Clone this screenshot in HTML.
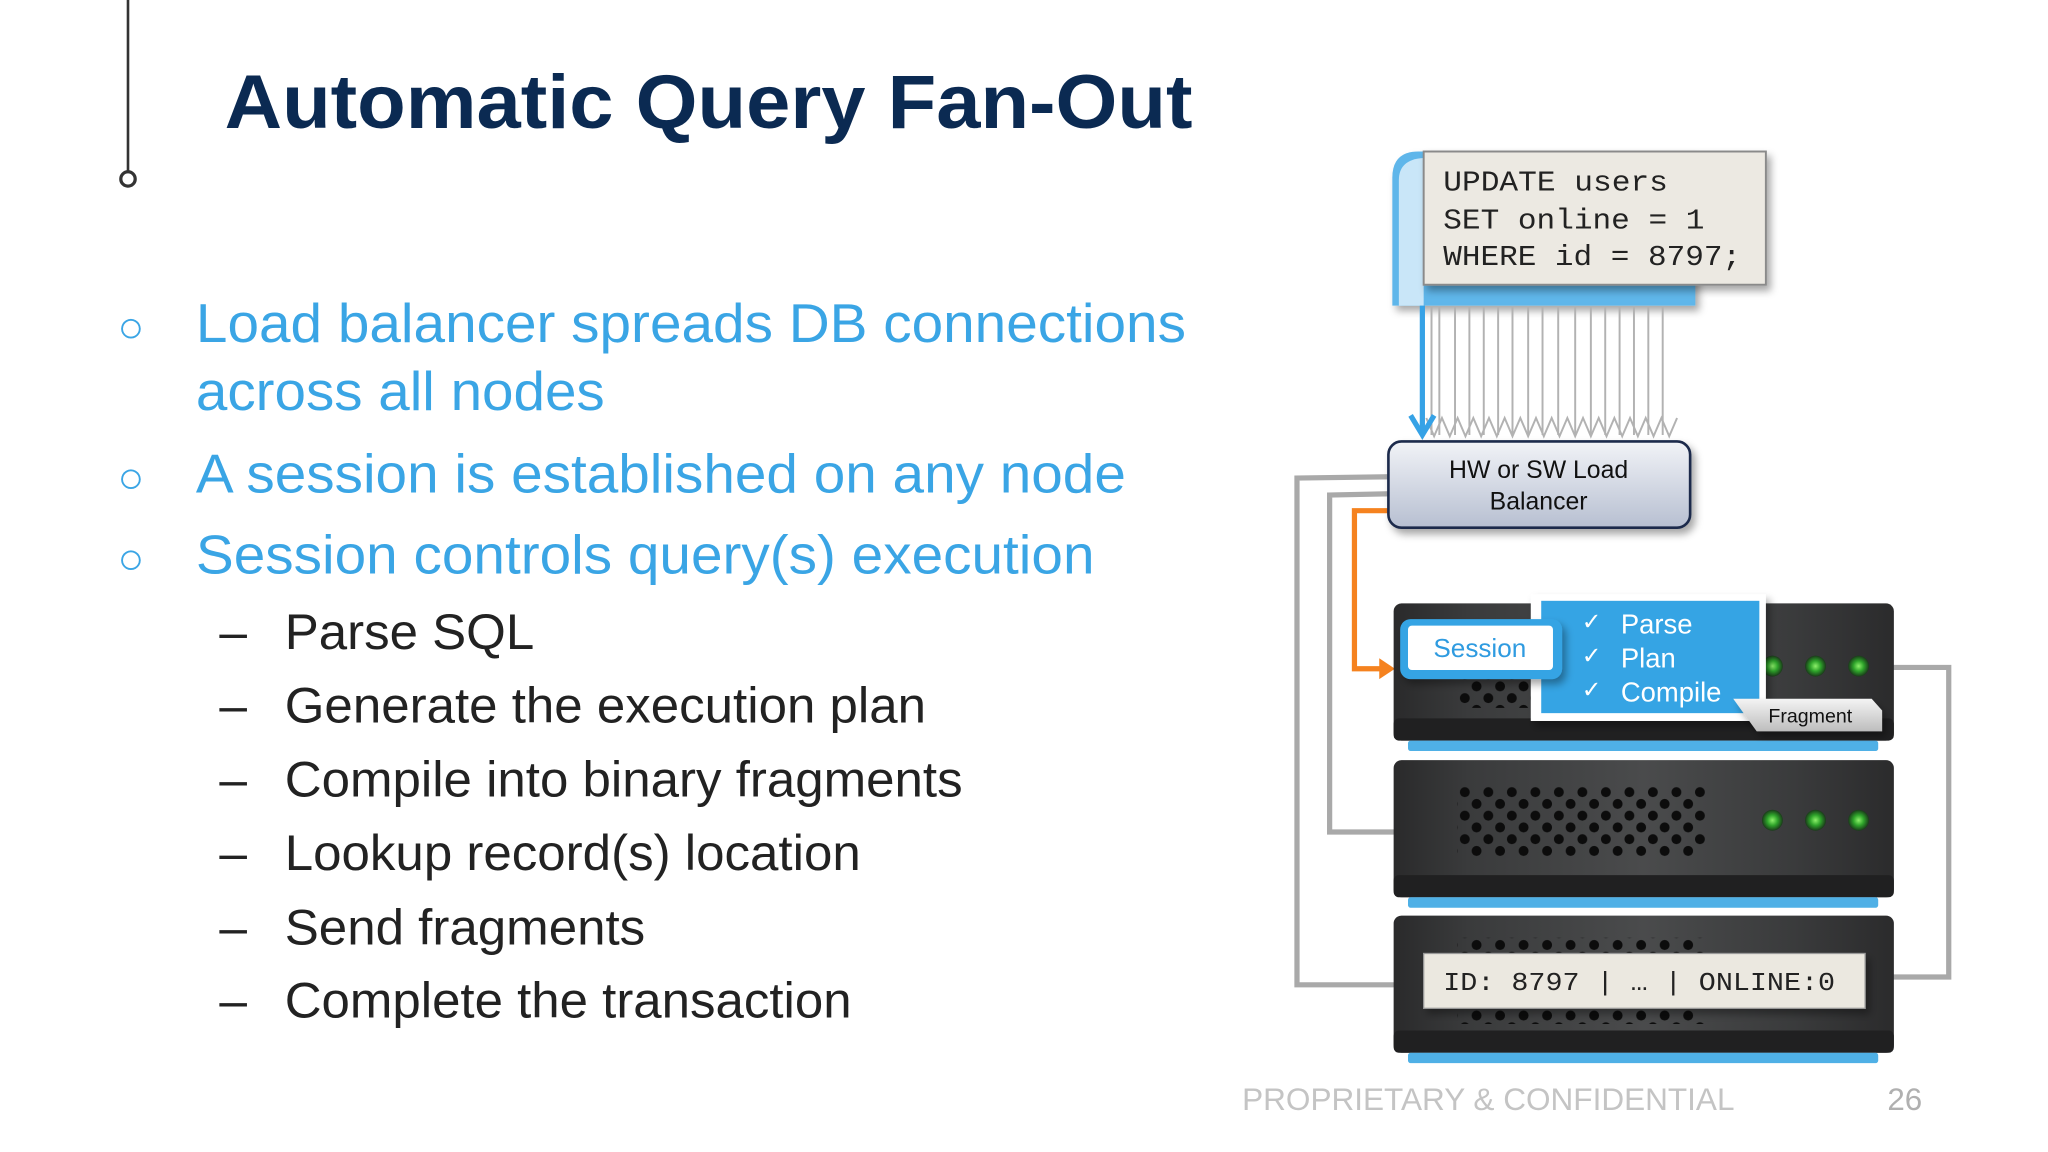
<!DOCTYPE html>
<html><head><meta charset="utf-8"><style>
html,body{margin:0;padding:0;background:#fff;width:2048px;height:1152px;overflow:hidden}
svg{display:block}
text{font-family:"Liberation Sans",Arial,sans-serif}
.mono{font-family:"Liberation Mono","Courier New",monospace}
</style></head><body>
<svg width="2048" height="1152" viewBox="0 0 1568 882" xmlns="http://www.w3.org/2000/svg">
<defs>
<linearGradient id="lb" x1="0" y1="0" x2="0" y2="1"><stop offset="0" stop-color="#f1f3f7"/><stop offset="1" stop-color="#b7bfd1"/></linearGradient>
<linearGradient id="srv" x1="0" y1="0" x2="1" y2="0"><stop offset="0" stop-color="#2a2a2b"/><stop offset="0.15" stop-color="#3a3b3c"/><stop offset="0.5" stop-color="#4a4b4c"/><stop offset="0.8" stop-color="#3a3b3c"/><stop offset="1" stop-color="#2b2b2c"/></linearGradient>
<linearGradient id="frag" x1="0" y1="0" x2="0" y2="1"><stop offset="0" stop-color="#f4f4f4"/><stop offset="1" stop-color="#bdbdbd"/></linearGradient>
<pattern id="vent" x="1117" y="602" width="18" height="18" patternUnits="userSpaceOnUse"><circle cx="4.5" cy="4.5" r="3.8" fill="#0c0c0c"/><circle cx="13.5" cy="13.5" r="3.8" fill="#0c0c0c"/></pattern>
<radialGradient id="led"><stop offset="0" stop-color="#8cf06a"/><stop offset="0.5" stop-color="#2ea32a"/><stop offset="1" stop-color="#1a3a1a"/></radialGradient>
<filter id="sh" x="-10%" y="-10%" width="130%" height="140%"><feDropShadow dx="3" dy="4" stdDeviation="3" flood-opacity="0.35"/></filter>
</defs>

<line x1="98" y1="0" x2="98" y2="131" stroke="#333" stroke-width="2"/>
<circle cx="98" cy="137" r="5.5" fill="#fff" stroke="#333" stroke-width="2.5"/>

<text x="172" y="98" font-size="58" font-weight="bold" fill="#0b2a52" textLength="741" lengthAdjust="spacingAndGlyphs">Automatic Query Fan-Out</text>

<g fill="#3aa5e5" font-size="42">
<text x="90" y="262" font-size="34">○</text>
<text x="150" y="262" textLength="758" lengthAdjust="spacingAndGlyphs">Load balancer spreads DB connections</text>
<text x="150" y="314" textLength="313" lengthAdjust="spacingAndGlyphs">across all nodes</text>
<text x="90" y="377" font-size="34">○</text>
<text x="150" y="377" textLength="712" lengthAdjust="spacingAndGlyphs">A session is established on any node</text>
<text x="90" y="439" font-size="34">○</text>
<text x="150" y="439" textLength="688" lengthAdjust="spacingAndGlyphs">Session controls query(s) execution</text>
</g>
<g fill="#222" font-size="38">
<text x="168" y="497">–</text><text x="218" y="497" textLength="191" lengthAdjust="spacingAndGlyphs">Parse SQL</text>
<text x="168" y="553">–</text><text x="218" y="553" textLength="491" lengthAdjust="spacingAndGlyphs">Generate the execution plan</text>
<text x="168" y="610">–</text><text x="218" y="610" textLength="519" lengthAdjust="spacingAndGlyphs">Compile into binary fragments</text>
<text x="168" y="666">–</text><text x="218" y="666" textLength="441" lengthAdjust="spacingAndGlyphs">Lookup record(s) location</text>
<text x="168" y="723">–</text><text x="218" y="723" textLength="276" lengthAdjust="spacingAndGlyphs">Send fragments</text>
<text x="168" y="779">–</text><text x="218" y="779" textLength="434" lengthAdjust="spacingAndGlyphs">Complete the transaction</text>
</g>

<text x="951" y="850" font-size="24" fill="#c4c4c4" textLength="377" lengthAdjust="spacingAndGlyphs">PROPRIETARY &amp; CONFIDENTIAL</text>
<text x="1445" y="850" font-size="24" fill="#b0b0b0">26</text>

<g fill="none" stroke="#a9a9a9" stroke-width="4">
<polyline points="1065,365 993,366 993,754 1070,754"/>
<polyline points="1065,378 1018,379 1018,637 1070,637"/>
<polyline points="1448,511 1492,511 1492,748 1448,748"/>
</g>
<polyline points="1065,391 1037,391 1037,512 1058,512" fill="none" stroke="#f5821f" stroke-width="4"/>
<polygon points="1056,504 1068,512 1056,520" fill="#f5821f"/>

<path d="M1086,116 L1298,116 L1298,234 L1066,234 L1066,136 Q1066,116 1086,116 Z" fill="#5fb6ea" filter="url(#sh)"/>
<path d="M1071,234 L1071,138 Q1071,122 1090,121 L1090,234Z" fill="#c9e6f8"/>
<rect x="1090" y="116" width="262" height="102" fill="#ece9e2" stroke="#8a8a8a" stroke-width="1.5" filter="url(#sh)"/>
<g font-size="22" fill="#222">
<text x="1105" y="146" class="mono" textLength="172" lengthAdjust="spacingAndGlyphs">UPDATE users</text>
<text x="1105" y="175" class="mono" textLength="200" lengthAdjust="spacingAndGlyphs">SET online = 1</text>
<text x="1105" y="203" class="mono" textLength="228" lengthAdjust="spacingAndGlyphs">WHERE id = 8797;</text>
</g>
<g stroke="#b2b2b2" stroke-width="1.5" fill="none">
<line x1="1096" y1="235" x2="1096" y2="333"/><line x1="1102" y1="235" x2="1102" y2="333"/>
<line x1="1114" y1="235" x2="1114" y2="333"/><line x1="1125" y1="235" x2="1125" y2="333"/>
<line x1="1136" y1="235" x2="1136" y2="333"/><line x1="1147" y1="235" x2="1147" y2="333"/>
<line x1="1158" y1="235" x2="1158" y2="333"/><line x1="1170" y1="235" x2="1170" y2="333"/>
<line x1="1181" y1="235" x2="1181" y2="333"/><line x1="1193" y1="235" x2="1193" y2="333"/>
<line x1="1206" y1="235" x2="1206" y2="333"/><line x1="1218" y1="235" x2="1218" y2="333"/>
<line x1="1229" y1="235" x2="1229" y2="333"/><line x1="1240" y1="235" x2="1240" y2="333"/>
<line x1="1251" y1="235" x2="1251" y2="333"/><line x1="1262" y1="235" x2="1262" y2="333"/>
<line x1="1273" y1="235" x2="1273" y2="333"/>
<path d="M1092,320 L1098,334 L1104,320 L1110,334 L1116,320 L1122,334 L1128,320 L1134,334 L1140,320 L1146,334 L1152,320 L1158,334 L1164,320 L1170,334 L1176,320 L1182,334 L1188,320 L1194,334 L1200,320 L1206,334 L1212,320 L1218,334 L1224,320 L1230,334 L1236,320 L1242,334 L1248,320 L1254,334 L1260,320 L1266,334 L1272,320 L1278,334 L1284,320"/>
</g>
<line x1="1089" y1="234" x2="1089" y2="330" stroke="#36a2e6" stroke-width="4"/>
<polyline points="1080,318 1089,333 1098,318" fill="none" stroke="#36a2e6" stroke-width="4"/>

<rect x="1063" y="338" width="231" height="66" rx="10" fill="url(#lb)" stroke="#1b2b4c" stroke-width="2" filter="url(#sh)"/>
<text x="1178" y="366" font-size="19" fill="#111" text-anchor="middle">HW or SW Load</text>
<text x="1178" y="390" font-size="19" fill="#111" text-anchor="middle">Balancer</text>

<g>
<rect x="1067" y="462" width="383" height="105" rx="6" fill="url(#srv)"/>
<rect x="1067" y="550" width="383" height="17" rx="4" fill="#202021"/>
<rect x="1078" y="567" width="360" height="8" rx="2" fill="#4fb0e6"/>
<rect x="1117" y="520" width="60" height="22" fill="url(#vent)"/>
<rect x="1067" y="582" width="383" height="105" rx="6" fill="url(#srv)"/>
<rect x="1067" y="670" width="383" height="17" rx="4" fill="#202021"/>
<rect x="1078" y="687" width="360" height="8" rx="2" fill="#4fb0e6"/>
<rect x="1116" y="602" width="190" height="54" fill="url(#vent)"/>
<rect x="1067" y="701" width="383" height="105" rx="6" fill="url(#srv)"/>
<rect x="1067" y="789" width="383" height="17" rx="4" fill="#202021"/>
<rect x="1078" y="806" width="360" height="8" rx="2" fill="#4fb0e6"/>
<rect x="1116" y="718" width="190" height="66" fill="url(#vent)"/>
<circle cx="1357" cy="628" r="8" fill="url(#led)"/><circle cx="1390" cy="628" r="8" fill="url(#led)"/><circle cx="1423" cy="628" r="8" fill="url(#led)"/>
<circle cx="1357" cy="510" r="8" fill="url(#led)"/><circle cx="1390" cy="510" r="8" fill="url(#led)"/><circle cx="1423" cy="510" r="8" fill="url(#led)"/>
</g>

<rect x="1172" y="455" width="180" height="97" fill="#fff" filter="url(#sh)"/>
<rect x="1180" y="460" width="167" height="86" fill="#35a4e4"/>
<g fill="#fff" font-size="21">
<text x="1211" y="482" font-size="18">✓</text><text x="1241" y="485">Parse</text>
<text x="1211" y="508" font-size="18">✓</text><text x="1241" y="511">Plan</text>
<text x="1211" y="534" font-size="18">✓</text><text x="1241" y="537">Compile</text>
</g>
<path d="M1327,535 L1433,535 L1441,544 L1441,560 L1345,560 Z" fill="url(#frag)" filter="url(#sh)"/>
<text x="1386" y="553" font-size="15" fill="#111" text-anchor="middle">Fragment</text>

<rect x="1072" y="474" width="124" height="46" rx="8" fill="#35a4e4" filter="url(#sh)"/>
<rect x="1078" y="479" width="111" height="34" rx="3" fill="#fff"/>
<text x="1133" y="503" font-size="20" fill="#2f9be0" text-anchor="middle">Session</text>

<rect x="1090" y="730" width="338" height="42" fill="#ebe8e0" stroke="#999" stroke-width="1" filter="url(#sh)"/>
<text x="1105" y="758" font-size="20" fill="#222" class="mono" textLength="300" lengthAdjust="spacingAndGlyphs">ID: 8797 | … | ONLINE:0</text>
</svg>
</body></html>
